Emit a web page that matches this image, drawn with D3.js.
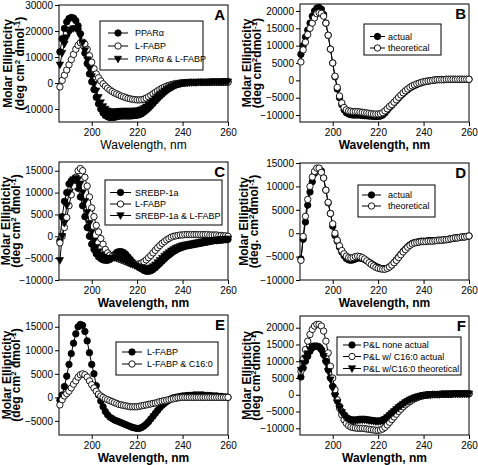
<!DOCTYPE html>
<html><head><meta charset="utf-8">
<script src="https://cdn.jsdelivr.net/npm/d3@7"></script>
<style>body{margin:0;background:#fff}svg{display:block}text{font-family:"Liberation Sans",Arial,sans-serif}</style>
</head><body><svg id="c" width="478" height="465"></svg>
<script>
// wavelengths 186..260 nm, 1 nm steps
const wavelengths = d3.range(186, 261);

// Panel A
const A_ppar = [12000,17000,21000,23500,24800,25200,25000,24000,22000,19000,
15500,11500,7500,3500,500,-2500,-5500,-8000,-10000,-11500,
-12500,-13000,-13300,-13300,-13200,-13000,-12800,-12700,-12700,-12700,
-12700,-12700,-12600,-12500,-12400,-12200,-11800,-11200,-10500,-9700,
-8800,-7900,-6900,-6000,-5100,-4300,-3500,-2800,-2200,-1700,
-1200,-800,-500,-300,-100,0,100,100,200,200,
200,300,300,300,300,300,400,400,400,400,
400,400,500,500,500];
const A_lfabp = [-1500,1000,3000,5000,7000,9000,11000,13000,14500,15500,
15700,15000,13000,10500,8000,5500,3500,2000,800,-300,
-1200,-2000,-2700,-3300,-3800,-4200,-4600,-5000,-5300,-5600,
-5900,-6100,-6300,-6400,-6500,-6500,-6400,-6200,-5800,-5300,
-4800,-4200,-3600,-3000,-2500,-2000,-1600,-1200,-900,-600,
-400,-200,-100,0,100,200,200,300,300,300,
300,300,300,300,300,300,300,300,300,300,
300,300,300,300,300];
const A_both = [7000,11500,15000,17500,19500,20500,21000,21000,20000,18000,
15500,12500,9000,5500,2500,-500,-3000,-5500,-7500,-9000,
-10000,-10700,-11000,-11100,-11100,-11000,-10900,-10800,-10800,-10800,
-10800,-10800,-10800,-10700,-10700,-10500,-10200,-9700,-9100,-8400,
-7600,-6800,-6000,-5200,-4400,-3700,-3000,-2400,-1900,-1400,
-1000,-700,-400,-200,0,100,100,200,200,200,
200,300,300,300,300,300,300,400,400,400,
400,400,400,500,500];

// Panel B
const B_actual = [7500,10000,12500,14500,16500,18500,20000,20800,21000,20500,
19000,16500,13000,9000,5000,1000,-2500,-5000,-7000,-8500,
-9300,-9700,-9900,-10000,-10000,-10000,-10000,-10100,-10200,-10200,
-10300,-10300,-10400,-10400,-10400,-10300,-10000,-9400,-8600,-7800,
-7200,-6500,-5800,-5100,-4400,-3800,-3200,-2700,-2200,-1800,
-1500,-1200,-900,-700,-500,-300,-200,-100,0,100,
200,200,200,200,300,300,300,300,300,300,
300,300,300,300,300];
const B_theo = [5300,8800,11000,13200,15000,16500,18000,19200,19500,19300,
18500,16500,13000,9000,5000,1200,-2000,-4500,-6500,-7800,
-8500,-8800,-8900,-9000,-9000,-9000,-9100,-9200,-9300,-9400,
-9500,-9600,-9700,-9700,-9700,-9600,-9300,-8800,-8200,-7500,
-7000,-6300,-5600,-4900,-4200,-3600,-3000,-2500,-2000,-1600,
-1300,-1000,-800,-600,-400,-300,-200,-100,0,100,
200,200,200,200,300,300,300,300,300,300,
300,300,300,300,300];

// Panel C
const C_srebp = [-1000,4500,8000,10000,12000,12700,12800,12000,11000,9000,
7000,4500,2000,0,-1800,-3000,-4000,-4700,-5100,-5400,
-5500,-5500,-5300,-4800,-4200,-3700,-3500,-3500,-3700,-4100,
-4700,-5300,-5900,-6400,-6800,-7200,-7500,-7800,-8000,-8000,
-7900,-7600,-7200,-6700,-6200,-5700,-5200,-4700,-4300,-3900,
-3500,-3200,-2900,-2700,-2500,-2300,-2200,-2100,-2000,-1900,
-1800,-1700,-1600,-1500,-1400,-1300,-1200,-1100,-1000,-1000,
-900,-900,-800,-800,-700];
const C_lfabp = [-1500,0,2000,4300,7000,9500,11500,13500,15000,15500,
15000,13500,11500,9000,6500,4500,2500,1000,-500,-1800,
-3000,-3800,-4300,-4600,-4800,-5000,-5200,-5400,-5600,-5800,
-6000,-6200,-6300,-6400,-6400,-6300,-6100,-5800,-5400,-4900,
-4400,-3800,-3200,-2600,-2100,-1600,-1200,-800,-500,-200,
0,100,200,300,300,400,400,400,400,400,
400,400,400,400,400,400,300,300,300,300,
200,200,100,100,0];
const C_both = [-5500,0,3000,7000,10000,12000,13000,13300,13000,12000,
10000,8000,5500,3000,1000,-1000,-2500,-3500,-4200,-4700,
-5000,-5100,-5100,-5000,-4900,-4900,-5000,-5200,-5400,-5700,
-6000,-6300,-6500,-6700,-6900,-7100,-7300,-7400,-7500,-7400,
-7200,-6900,-6500,-6000,-5500,-5000,-4500,-4100,-3700,-3300,
-3000,-2700,-2500,-2300,-2100,-2000,-1900,-1800,-1700,-1600,
-1500,-1400,-1300,-1200,-1100,-1000,-1000,-900,-900,-800,
-800,-700,-700,-600,-600];

// Panel D
const D_actual = [-5500,-1300,2400,6000,8800,11000,12800,13700,13800,13300,
11800,9200,6500,4200,1500,-500,-1700,-3000,-4000,-4800,
-5400,-5700,-5800,-5700,-5500,-5300,-5300,-5400,-5600,-5900,
-6200,-6500,-6800,-7100,-7300,-7500,-7600,-7600,-7500,-7200,
-6800,-6300,-5700,-5100,-4500,-3900,-3400,-2900,-2500,-2200,
-2000,-1900,-1800,-1700,-1700,-1700,-1600,-1600,-1600,-1600,
-1500,-1500,-1500,-1400,-1400,-1300,-1200,-1100,-1000,-1000,
-900,-800,-800,-700,-600];
const D_theo = [-5800,-700,3600,7200,10000,12000,13200,13900,13900,13000,
11800,9200,6600,4200,2000,0,-1500,-2700,-3700,-4400,
-4900,-5200,-5300,-5200,-5000,-4900,-5000,-5200,-5500,-5900,
-6300,-6700,-7000,-7300,-7500,-7600,-7700,-7700,-7500,-7200,
-6800,-6300,-5800,-5200,-4600,-4000,-3500,-3000,-2600,-2300,
-2100,-2000,-1900,-1800,-1800,-1800,-1700,-1700,-1700,-1600,
-1600,-1500,-1500,-1400,-1400,-1300,-1200,-1100,-1000,-1000,
-900,-800,-800,-700,-600];

// Panel E
const E_lfabp = [-600,500,2300,4500,7000,9300,11500,13500,15000,15500,
15300,14000,12000,9500,7000,5000,2500,500,-800,-2000,
-3000,-3700,-4200,-4500,-4800,-5000,-5200,-5400,-5600,-5800,
-6000,-6200,-6400,-6500,-6600,-6600,-6400,-6100,-5700,-5200,
-4600,-4000,-3400,-2800,-2200,-1700,-1300,-900,-600,-300,
-100,0,100,200,300,300,400,400,400,500,
500,500,500,500,400,400,400,300,300,300,
200,200,100,100,0];
const E_c16 = [-1600,-500,300,800,1300,2000,2800,3500,4300,4800,
5000,4800,4300,3500,2700,2000,1300,700,300,0,
-300,-500,-700,-900,-1100,-1300,-1500,-1600,-1700,-1800,
-1900,-2000,-2000,-2000,-2000,-1900,-1800,-1700,-1600,-1500,
-1400,-1300,-1200,-1100,-900,-800,-700,-600,-500,-400,
-300,-200,-100,-50,0,0,0,0,0,0,
0,0,0,0,0,0,0,0,0,0,
0,0,0,0,0];

// Panel F
const F_none = [5300,8000,10000,11500,13000,14000,14500,14500,14200,13500,
12000,10000,7500,5000,2500,200,-1800,-3500,-5000,-6000,
-6800,-7200,-7400,-7500,-7500,-7400,-7300,-7300,-7300,-7400,
-7500,-7600,-7700,-7800,-7800,-7800,-7600,-7200,-6700,-6100,
-5500,-4900,-4300,-3700,-3200,-2700,-2300,-1900,-1500,-1200,
-900,-700,-500,-300,-200,-100,0,0,100,100,
100,100,200,200,200,200,200,300,300,300,
300,300,300,300,300];
const F_c16 = [7000,10500,13500,16000,18000,19500,20500,21000,21000,20500,
19000,16000,12500,8500,5000,1500,-1500,-4000,-6000,-7500,
-8500,-9200,-9600,-9800,-9900,-10000,-10000,-10000,-10100,-10200,
-10300,-10400,-10500,-10600,-10600,-10500,-10200,-9700,-9000,-8200,
-7400,-6600,-5800,-5000,-4300,-3600,-3000,-2500,-2000,-1600,
-1200,-900,-600,-400,-200,-100,0,0,100,100,
100,100,200,200,200,200,200,300,300,300,
300,300,300,300,300];
const F_theo = [7400,9500,11000,12300,13500,14300,14600,14500,14000,13000,
11500,9500,7000,4500,2000,-300,-2300,-4000,-5300,-6300,
-7000,-7400,-7600,-7700,-7700,-7600,-7500,-7500,-7500,-7600,
-7700,-7800,-7900,-8000,-8000,-7900,-7700,-7300,-6800,-6200,
-5600,-5000,-4400,-3800,-3300,-2800,-2300,-1900,-1500,-1200,
-900,-700,-500,-300,-200,-100,0,0,100,100,
100,100,200,200,200,200,200,300,300,300,
300,300,300,300,300];

// tick labels
const xTicks = [200, 220, 240, 260];
const yTicksA = [-10000, 0, 10000, 20000, 30000];
const yTicksB = [-10000, -5000, 0, 5000, 10000, 15000, 20000];
const yTicksC = [-10000, -5000, 0, 5000, 10000, 15000];
const yTicksD = [-10000, -5000, 0, 5000, 10000, 15000];
const yTicksE = [-5000, 0, 5000, 10000, 15000];
const yTicksF = [-10000, -5000, 0, 5000, 10000, 15000, 20000];

// legend labels
const legendA = ["PPAR\u03b1", "L-FABP", "PPAR\u03b1 & L-FABP"];
const legendB = ["actual", "theoretical"];
const legendC = ["SREBP-1a", "L-FABP", "SREBP-1a & L-FABP"];
const legendD = ["actual", "theoretical"];
const legendE = ["L-FABP", "L-FABP & C16:0"];
const legendF = ["P&L none actual", "P&L w/ C16:0 actual", "P&L w/C16:0 theoretical"];

const panels = [
 {letter:"A", L:59, R:228, T:5, B:122, yd:[-15000,30000], yt:yTicksA,
  series:[[A_ppar,"fc"],[A_lfabp,"oc"],[A_both,"tr"]], leg:legendA,
  lb:{x:100,y:21,w:103,h:49,ly:[33,46,59],lx:108,lw:20,tx:135},
  yl:[8,20], y2:["(deg cm","2"," dmol","-1",")"], xtitle:"Wavelength, nm", xbold:false},
 {letter:"B", L:300, R:469, T:4, B:122, yd:[-12000,22000], yt:yTicksB,
  series:[[B_actual,"fc"],[B_theo,"oc"]], leg:legendB,
  lb:{x:364,y:24,w:77,h:31,ly:[36.5,48],lx:370,lw:15,tx:388},
  yl:[247,257], y2:["(deg cm","2","dmol","-1",")"], xtitle:"Wavelength, nm", xbold:true},
 {letter:"C", L:59, R:228, T:162, B:280, yd:[-10000,17000], yt:yTicksC,
  series:[[C_srebp,"fc"],[C_lfabp,"oc"],[C_both,"tr"]], leg:legendC,
  lb:{x:105,y:180,w:117,h:45,ly:[192.5,204,215.5],lx:110,lw:21,tx:135},
  yl:[6,16], y2:["(deg cm","2"," dmol","-1",")"], xtitle:"Wavelength, nm", xbold:true},
 {letter:"D", L:300, R:469, T:163, B:280, yd:[-10000,15000], yt:yTicksD,
  series:[[D_actual,"fc"],[D_theo,"oc"]], leg:legendD,
  lb:{x:358,y:185,w:77,h:32,ly:[195,206],lx:362,lw:19,tx:388},
  yl:[244,254], y2:["(deg. cm","2","dmol","-1",")"], xtitle:"Wavelength, nm", xbold:true},
 {letter:"E", L:59, R:228, T:315, B:435, yd:[-8000,17500], yt:yTicksE,
  series:[[E_lfabp,"fc"],[E_c16,"oc"]], leg:legendE,
  lb:{x:116,y:342,w:102,h:33,ly:[352,364],lx:122,lw:20,tx:147},
  yl:[7,16], y2:["(deg cm","2"," dmol","-1",")"], xtitle:"Wavelength, nm", xbold:true},
 {letter:"F", L:300, R:469, T:316, B:435, yd:[-12000,23500], yt:yTicksF,
  series:[[F_none,"fc"],[F_c16,"oc"],[F_theo,"tr"]], leg:legendF,
  lb:{x:337,y:337,w:124,h:38,ly:[345,356.5,368.5],lx:343,lw:18,tx:363},
  yl:[247,256], y2:["(deg cm","2","dmol","-1",")"], xtitle:"Wavlength, nm", xbold:true}
];

const svg = d3.select("#c");
const FONT = '"Liberation Sans",Arial,sans-serif';

function marker(g, type, cx, cy) {
  if (type === "tr") {
    const s = 3.7;
    g.append("path").attr("d", `M${cx-s},${cy-s*0.75}L${cx+s},${cy-s*0.75}L${cx},${cy+s*1.05}Z`)
      .attr("fill", "#000").attr("stroke", "#000").attr("stroke-width", 0.6);
  } else {
    g.append("circle").attr("cx", cx).attr("cy", cy).attr("r", 3.2)
      .attr("fill", type === "fc" ? "#000" : "#fff").attr("stroke", "#000").attr("stroke-width", 0.9);
  }
}

panels.forEach(p => {
  const x = d3.scaleLinear().domain([185.6, 260]).range([p.L, p.R]);
  const y = d3.scaleLinear().domain(p.yd).range([p.B, p.T]);
  const g = svg.append("g");

  // axes
  const ya = g.append("g").attr("transform", `translate(${p.L},0)`)
    .call(d3.axisLeft(y).tickValues(p.yt).tickFormat(d3.format("d")).tickSize(4).tickSizeOuter(0).tickPadding(2));
  const xa = g.append("g").attr("transform", `translate(0,${p.B})`)
    .call(d3.axisBottom(x).tickValues(xTicks).tickFormat(d3.format("d")).tickSize(4).tickSizeOuter(0).tickPadding(3));
  [ya, xa].forEach(a => {
    a.select(".domain").remove();
    a.selectAll("text").attr("font-family", FONT).attr("font-size", 10).attr("fill", "#000");
    a.selectAll("line").attr("stroke", "#000");
  });
  g.append("rect").attr("x", p.L).attr("y", p.T).attr("width", p.R - p.L).attr("height", p.B - p.T)
    .attr("fill", "none").attr("stroke", "#000").attr("stroke-width", 1);

  // data
  const line = d3.line().x((d, i) => x(wavelengths[i])).y(d => y(d));
  p.series.forEach(([vals]) => {
    g.append("path").attr("d", line(vals)).attr("fill", "none").attr("stroke", "#000").attr("stroke-width", 1);
  });
  p.series.forEach(([vals, type]) => {
    const mg = g.append("g");
    vals.forEach((v, i) => marker(mg, type, x(wavelengths[i]), y(v)));
  });

  // legend
  const lb = p.lb;
  g.append("rect").attr("x", lb.x).attr("y", lb.y).attr("width", lb.w).attr("height", lb.h)
    .attr("fill", "#fff").attr("stroke", "#000").attr("stroke-width", 1);
  p.leg.forEach((t, i) => {
    const yy = lb.ly[i];
    g.append("line").attr("x1", lb.lx).attr("x2", lb.lx + lb.lw).attr("y1", yy).attr("y2", yy).attr("stroke", "#000");
    marker(g, p.series[i][1], lb.lx + lb.lw / 2, yy);
    g.append("text").attr("x", lb.tx).attr("y", yy + 3.2).attr("font-size", 9).attr("font-family", FONT).text(t);
  });

  // panel letter
  g.append("text").attr("x", p.R - 3).attr("y", p.T + 15).attr("text-anchor", "end")
    .attr("font-size", 15).attr("font-weight", "bold").attr("font-family", FONT).text(p.letter);

  // x title
  g.append("text").attr("x", (p.L + p.R) / 2).attr("y", p.B + 27).attr("text-anchor", "middle")
    .attr("font-size", 12).attr("font-weight", p.xbold ? "bold" : "normal").attr("font-family", FONT).text(p.xtitle);

  // y title
  const cy = (p.T + p.B) / 2;
  g.append("text").attr("transform", `translate(${p.yl[0] + 4},${cy}) rotate(-90)`).attr("text-anchor", "middle")
    .attr("font-size", 12).attr("font-weight", "bold").attr("font-family", FONT).text("Molar Ellipticity");
  const t2 = g.append("text").attr("transform", `translate(${p.yl[1] + 3.5},${cy}) rotate(-90)`).attr("text-anchor", "middle")
    .attr("font-size", 12).attr("font-weight", "bold").attr("font-family", FONT);
  t2.append("tspan").text(p.y2[0]);
  t2.append("tspan").attr("dy", -4).attr("font-size", 8).text(p.y2[1]);
  t2.append("tspan").attr("dy", 4).text(p.y2[2]);
  t2.append("tspan").attr("dy", -4).attr("font-size", 8).text(p.y2[3]);
  t2.append("tspan").attr("dy", 4).text(p.y2[4]);
});
</script></body></html>
